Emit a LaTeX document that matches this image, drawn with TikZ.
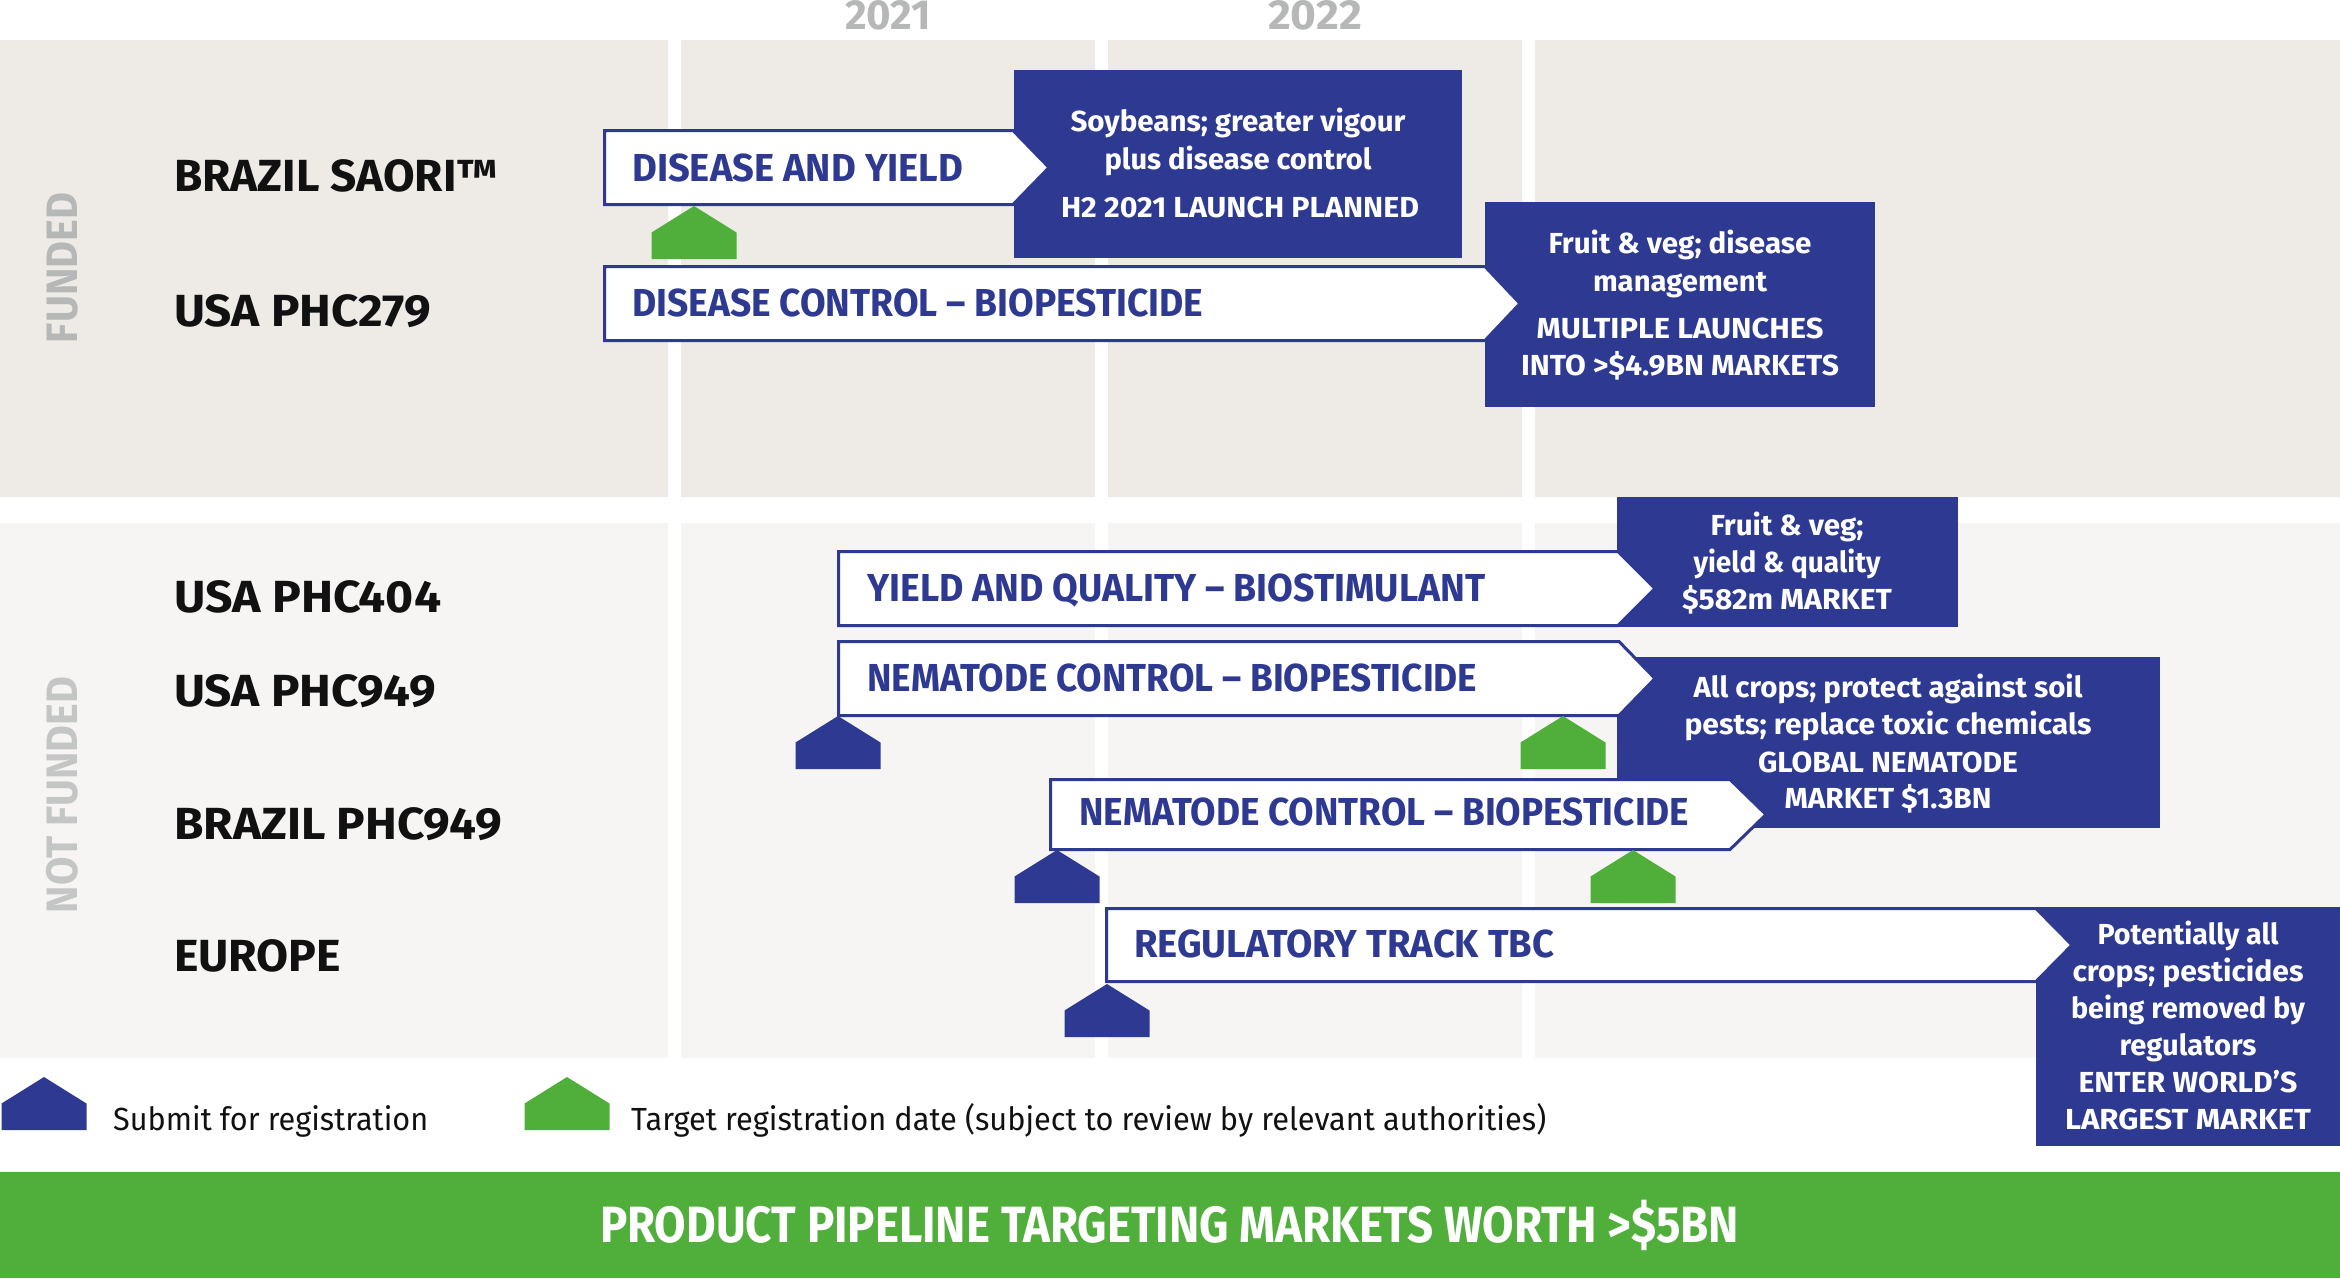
\documentclass[tikz,border=0pt]{standalone}
\usepackage{fontspec}
\setmainfont{Fira Sans}
\definecolor{navy}{HTML}{2E3992}
\definecolor{leaf}{HTML}{50AF3A}
\definecolor{panelA}{HTML}{EEEBE6}
\definecolor{panelB}{HTML}{F6F5F3}
\definecolor{gA}{HTML}{B6B8B7}
\definecolor{gB}{HTML}{C4C5C5}
\definecolor{ink}{HTML}{111111}
\newcommand\fw[2]{\resizebox{#1pt}{\height}{#2}}
\newcommand\fnt[1]{\fontsize{#1}{#1}\selectfont}
\newcommand\mrk[3]{% cx, top, colour
  \fill[#3] ({#1},{#2}) -- ({#1+42.5},{#2+26.5}) -- ({#1+42.5},{#2+53}) -- ({#1-42.5},{#2+53}) -- ({#1-42.5},{#2+26.5}) -- cycle;}
\newcommand\barw[5]{% left, top, shoulder, tip, bottom
  \draw[arrowbar] ({#1+1.5},{#2+1.5}) -- ({#3},{#2+1.5}) -- ({#4+2},{(#2+#5)/2}) -- ({#3},{#5-1.5}) -- ({#1+1.5},{#5-1.5}) -- cycle;}
\tikzset{
  x=1pt,y=-1pt,
  arrowbar/.style={draw=navy,fill=white,line width=3pt,miter limit=10},
  navybox/.style={fill=navy},
  rowlab/.style={anchor=base west,inner sep=0,text=ink,font=\fnt{45}\bfseries},
  barlab/.style={anchor=base west,inner sep=0,text=navy,font=\fnt{39}\bfseries},
  boxline/.style={anchor=base,inner sep=0,text=white,font=\fnt{29}\bfseries},
  legendtxt/.style={anchor=base west,inner sep=0,text=ink,font=\fnt{32}},
  yearlab/.style={anchor=base,inner sep=0,text=gA,font=\fnt{42}\bfseries},
  sidelab/.style={anchor=base,inner sep=0,rotate=90,font=\fnt{44}\bfseries},
}
\begin{document}
\begin{tikzpicture}
\useasboundingbox (0,0) rectangle (2340,1278);
% panels
\fill[panelA] (0,40) rectangle (668,497) (681,40) rectangle (1095,497) (1108,40) rectangle (1522,497) (1535,40) rectangle (2340,497);
\fill[panelB] (0,523) rectangle (668,1058) (681,523) rectangle (1095,1058) (1108,523) rectangle (1522,1058) (1535,523) rectangle (2340,1058);
% years
\node[yearlab] (y21) at (888,29) {\fw{86}{2021}};
\node[yearlab] (y22) at (1315,29) {\fw{94}{2022}};
% side labels
\node[sidelab,text=gA] (funded) at (77,268) {\fw{150}{FUNDED}};
\node[sidelab,text=gB] (notfunded) at (77,795) {\fw{236}{NOT FUNDED}};
% row labels
\node[rowlab] (r1) at (174,191) {\fw{324}{BRAZIL SAORI™}};
\node[rowlab] (r2) at (174,326) {\fw{257}{USA PHC279}};
\node[rowlab] (r3) at (174,612) {\fw{267}{USA PHC404}};
\node[rowlab] (r4) at (174,706) {\fw{262}{USA PHC949}};
\node[rowlab] (r5) at (174,839) {\fw{328}{BRAZIL PHC949}};
\node[rowlab] (r6) at (174,971) {\fw{167}{EUROPE}};
% navy boxes
\fill[navybox] (1014,70) rectangle (1462,258);
\fill[navybox] (1485,202) rectangle (1875,407);
\fill[navybox] (1617,497) rectangle (1958,627);
\fill[navybox] (1617,657) rectangle (2160,828);
\fill[navybox] (2036,907) rectangle (2340,1146);
% arrows
\barw{603}{129}{1013}{1047}{206}
\barw{603}{265}{1485}{1518}{342}
\barw{837}{550}{1618}{1653}{627}
\barw{837}{640}{1619}{1653}{717}
\barw{1049}{778}{1730}{1764}{851}
\barw{1105}{907}{2036}{2070}{983}
% arrow labels
\node[barlab] (a1) at (632,181) {\fw{331}{DISEASE AND YIELD}};
\node[barlab] (a2) at (632,316) {\fw{571}{DISEASE CONTROL – BIOPESTICIDE}};
\node[barlab] (a3) at (867,601) {\fw{618}{YIELD AND QUALITY – BIOSTIMULANT}};
\node[barlab] (a4) at (867,691) {\fw{610}{NEMATODE CONTROL – BIOPESTICIDE}};
\node[barlab] (a5) at (1079,825) {\fw{610}{NEMATODE CONTROL – BIOPESTICIDE}};
\node[barlab] (a6) at (1134,957) {\fw{420}{REGULATORY TRACK TBC}};
% markers
\mrk{694}{206}{leaf}
\mrk{838}{716}{navy}
\mrk{1563}{716}{leaf}
\mrk{1057}{850}{navy}
\mrk{1633}{850}{leaf}
\mrk{1107}{984}{navy}
\mrk{44}{1077}{navy}
\mrk{567}{1077}{leaf}
% box texts
\node[boxline] (b11) at (1238,131) {\fw{335}{Soybeans; greater vigour}};
\node[boxline] (b12) at (1238,169) {\fw{267}{plus disease control}};
\node[boxline] (b13) at (1240,217) {\fw{358}{H2 2021 LAUNCH PLANNED}};
\node[boxline] (b21) at (1680,253) {\fw{263}{Fruit \& veg; disease}};
\node[boxline] (b22) at (1680,291) {\fw{174}{management}};
\node[boxline] (b23) at (1680,338) {\fw{287}{MULTIPLE LAUNCHES}};
\node[boxline] (b24) at (1680,375) {\fw{318}{INTO >\$4.9BN MARKETS}};
\node[boxline] (b31) at (1787,535) {\fw{153}{Fruit \& veg;}};
\node[boxline] (b32) at (1787,572) {\fw{187}{yield \& quality}};
\node[boxline] (b33) at (1787,609) {\fw{210}{\$582m MARKET}};
\node[boxline] (b41) at (1888,697) {\fw{389}{All crops; protect against soil}};
\node[boxline] (b42) at (1888,734) {\fw{407}{pests; replace toxic chemicals}};
\node[boxline] (b43) at (1888,772) {\fw{260}{GLOBAL NEMATODE}};
\node[boxline] (b44) at (1888,808) {\fw{207}{MARKET \$1.3BN}};
\node[boxline] (b61) at (2188,944) {\fw{181}{Potentially all}};
\node[boxline] (b62) at (2188,981) {\fw{231}{crops; pesticides}};
\node[boxline] (b63) at (2188,1018) {\fw{234}{being removed by}};
\node[boxline] (b64) at (2188,1055) {\fw{137}{regulators}};
\node[boxline] (b65) at (2188,1092) {\fw{219}{ENTER WORLD’S}};
\node[boxline] (b66) at (2188,1129) {\fw{246}{LARGEST MARKET}};
% legend
\node[legendtxt] (l1) at (113,1130) {\fw{315}{Submit for registration}};
\node[legendtxt] (l2) at (631,1130) {\fw{915}{Target registration date (subject to review by relevant authorities)}};
% banner
\fill[leaf] (0,1172) rectangle (2340,1278);
\node[anchor=base,inner sep=0,text=white,font=\fnt{51}\bfseries] (banner) at (1169.5,1242) {\fw{1139}{PRODUCT PIPELINE TARGETING MARKETS WORTH >\$5BN}};
\end{tikzpicture}
\end{document}
